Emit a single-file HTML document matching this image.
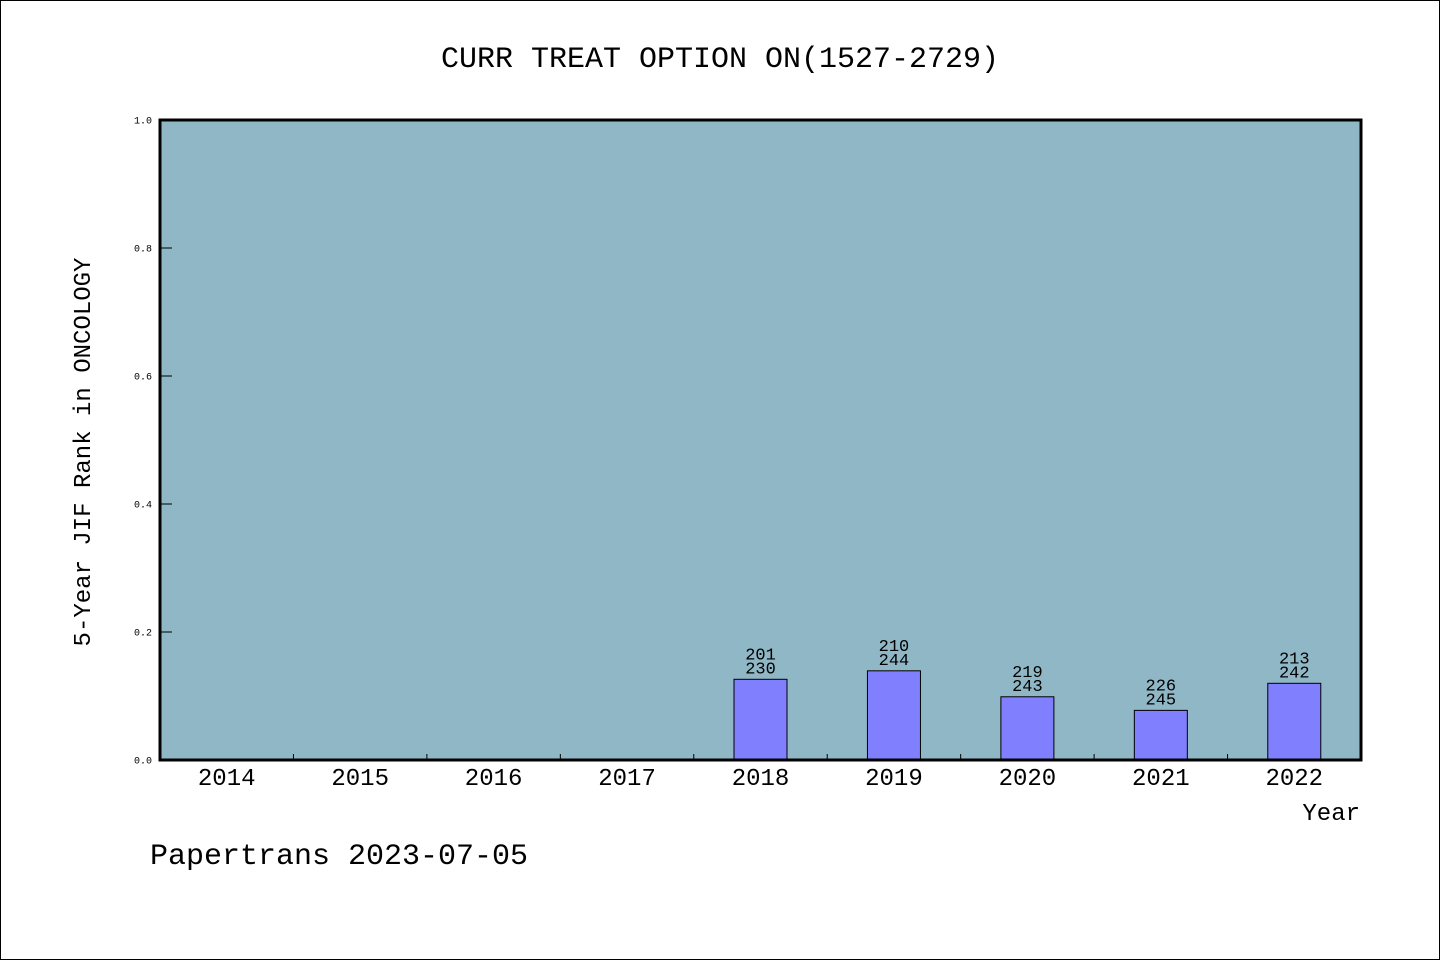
<!DOCTYPE html>
<html><head><meta charset="utf-8"><style>
html,body{margin:0;padding:0;background:#fff}
svg{display:block;font-family:"Liberation Mono","DejaVu Sans Mono",monospace}
</style></head><body>
<svg id="chart" width="1440" height="960">
<rect x="0.5" y="0.5" width="1439" height="959" fill="#fff" stroke="#000" stroke-width="1"/>
<text x="720" y="67" text-anchor="middle" font-size="30">CURR TREAT OPTION ON(1527-2729)</text>
<rect x="160" y="120" width="1201" height="640" fill="#8fb7c6"/>
<g id="marks"></g>
<rect x="160" y="120" width="1201" height="640" fill="none" stroke="#000" stroke-width="3"/>
<text transform="translate(90,452) rotate(-90)" text-anchor="middle" font-size="24">5-Year JIF Rank in ONCOLOGY</text>
<text x="1360" y="820" text-anchor="end" font-size="24">Year</text>
<text x="150" y="864" font-size="30">Papertrans 2023-07-05</text>
</svg>
<script>
const categories=["2014","2015","2016","2017","2018","2019","2020","2021","2022"];
const ranks=[null,null,null,null,201,210,219,226,213];
const totals=[null,null,null,null,230,244,243,245,242];
const yTicks=[0,0.2,0.4,0.6,0.8,1.0];
const yTickLabels=["0.0","0.2","0.4","0.6","0.8","1.0"];

const NS="http://www.w3.org/2000/svg";
const X0=160,W=1201,Y0=760,H=640;
const band=W/categories.length;
const xs=i=>X0+band*i;
const ys=v=>Y0-v*H;
const g=document.getElementById('marks');
const svg=document.getElementById('chart');
function mk(tag,attrs,parent){const e=document.createElementNS(NS,tag);for(const k in attrs)e.setAttribute(k,attrs[k]);(parent||g).appendChild(e);return e;}

yTicks.forEach((v,i)=>{
  const t=mk('line',{x1:X0,x2:X0+12,y1:ys(v),y2:ys(v),stroke:'#000','stroke-width':1});
  
  
  const l=mk('text',{x:X0-8,y:ys(v)+3.5,'text-anchor':'end','font-size':10},svg);
  l.textContent=yTickLabels[i];
  
  
});
categories.forEach((c,i)=>{
  if(i>0){
    const t=mk('line',{x1:xs(i),x2:xs(i),y1:Y0-6,y2:Y0,stroke:'#000','stroke-width':1});
    
    
  }
  const cx=xs(i)+band/2;
  const l=mk('text',{x:cx,y:785,'text-anchor':'middle','font-size':24},svg);
  l.textContent=c;
  
  
  if(ranks[i]!=null){
    const v=1-ranks[i]/totals[i];
    const bw=53;
    const b=mk('rect',{x:cx-bw/2,y:ys(v),width:bw,height:Y0-ys(v),fill:'#8080ff',stroke:'#000','stroke-width':1});
    
    
    const t1=mk('text',{x:cx,y:ys(v)-20,'text-anchor':'middle','font-size':17});
    t1.textContent=ranks[i];
    
    
    const t2=mk('text',{x:cx,y:ys(v)-6,'text-anchor':'middle','font-size':17});
    t2.textContent=totals[i];
    
    
  }
});
</script>
</body></html>
